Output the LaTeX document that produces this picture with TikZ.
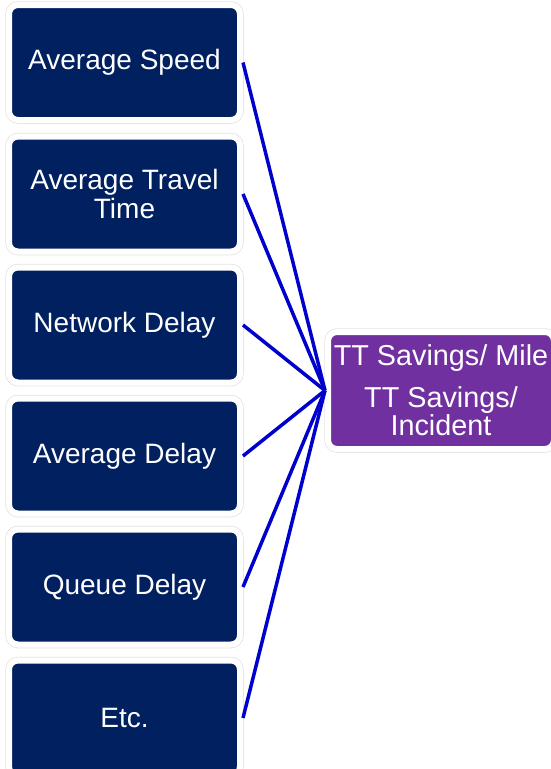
\documentclass[tikz,border=0pt]{standalone}
\usepackage{fontspec}
\setmainfont{Liberation Sans}
\usepackage{xcolor}
\usepackage{tikz}
\usetikzlibrary{positioning}
\definecolor{navybox}{HTML}{002060}
\definecolor{purplebox}{HTML}{7030A0}
\definecolor{linkblue}{HTML}{0000CC}

\begin{document}
\begin{tikzpicture}[
  x=1pt, y=-1pt,
  metric/.style={
    rectangle, rounded corners=9pt, fill=navybox, draw=white,
    line width=6pt, preaction={draw=gray!22, line width=7.5pt},
    minimum width=231pt, minimum height=115pt, inner sep=0pt,
    align=center, text=white, font=\fontsize{28}{28.5}\selectfont
  },
  result/.style={
    metric, fill=purplebox, minimum width=226pt, minimum height=117pt,
    font=\fontsize{28.8}{28.5}\selectfont
  },
  link/.style={draw=linkblue, line width=3.5pt}
]
\useasboundingbox (0,0) rectangle (550,769);
\node[metric] (speed) at (124.5,62.5) {Average Speed};
\node[metric] (travel) at (124.5,194) {Average Travel\\Time};
\node[metric] (network) at (124.5,325) {Network Delay};
\node[metric] (avgdelay) at (124.5,456) {Average Delay};
\node[metric] (queue) at (124.5,587) {Queue Delay};
\node[metric] (etc) at (124.5,718) {Etc.};
\node[result] (savings) at (441,390.5) {%
  TT Savings/ Mile\\[13pt]
  TT Savings/\\Incident};
\foreach \src in {speed,travel,network,avgdelay,queue,etc}
  \draw[link] (\src.east) -- (savings.west);
\end{tikzpicture}
\end{document}
